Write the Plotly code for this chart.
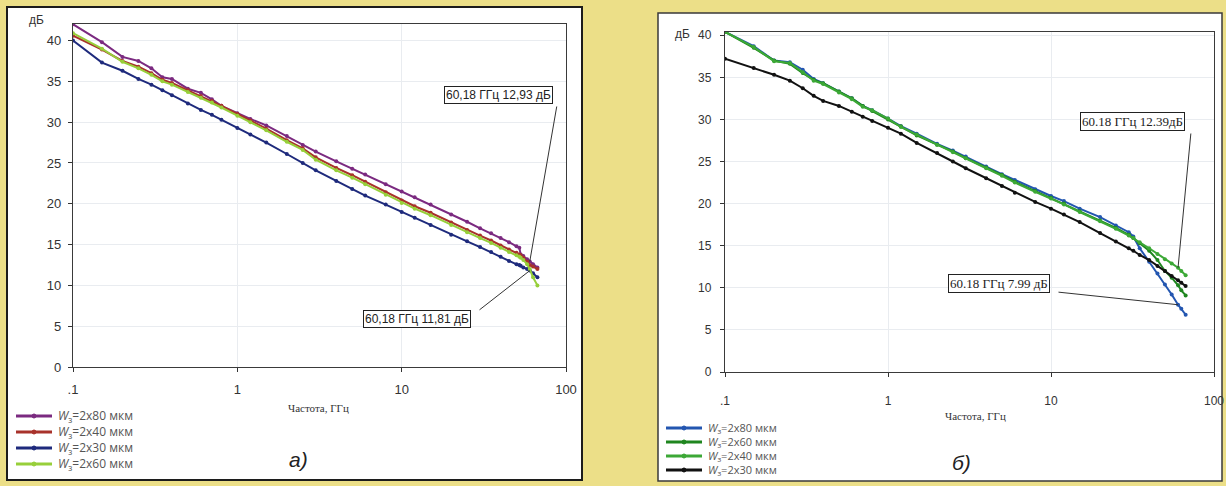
import numpy as np
import plotly.graph_objects as go

W, H = 1226, 486

# ---------------- data: chart a) ----------------
freq_a = [0.1, 0.15, 0.2, 0.25, 0.3, 0.35, 0.4, 0.5, 0.6, 0.7, 0.8, 1.0, 1.2, 1.5, 2, 2.5, 3, 4, 5, 6,
          8, 10, 12, 15, 20, 25, 30, 35, 40, 45, 50, 52, 53, 55, 58, 60.18, 63, 67]
a_w80 = [42.0, 39.8, 38.0, 37.5, 36.6, 35.5, 35.3, 34.1, 33.6, 32.8, 32.0, 31.1, 30.4, 29.6, 28.3, 27.2, 26.4,
         25.2, 24.3, 23.6, 22.4, 21.5, 20.8, 19.9, 18.7, 17.8, 17.0, 16.4, 15.8, 15.3, 14.8, 14.6, 13.8, 13.6,
         13.2, 12.93, 12.6, 12.2]
a_w40 = [40.6, 38.9, 37.5, 36.8, 36.0, 35.2, 34.8, 33.9, 33.2, 32.6, 32.0, 31.0, 30.2, 29.2, 27.8, 26.8, 25.7,
         24.4, 23.5, 22.7, 21.4, 20.4, 19.7, 18.9, 17.7, 16.8, 16.1, 15.5, 14.9, 14.4, 14.0, 13.8, 13.7, 13.4,
         12.9, 12.5, 12.3, 12.0]
a_w30 = [40.0, 37.3, 36.3, 35.3, 34.6, 33.9, 33.3, 32.3, 31.5, 30.9, 30.3, 29.3, 28.5, 27.5, 26.1, 25.0, 24.1,
         22.8, 21.8, 21.0, 19.9, 19.0, 18.3, 17.4, 16.2, 15.4, 14.7, 14.1, 13.5, 13.0, 12.6, 12.5, 12.4, 12.2,
         12.0, 11.81, 11.5, 11.0]
a_w60 = [40.9, 39.0, 37.4, 36.6, 35.8, 35.0, 34.6, 33.7, 33.0, 32.4, 31.8, 30.8, 30.0, 29.0, 27.6, 26.6, 25.4,
         24.1, 23.2, 22.4, 21.1, 20.1, 19.4, 18.6, 17.4, 16.5, 15.8, 15.2, 14.6, 14.1, 13.7, 13.5, 13.4, 13.1,
         12.6, 12.0, 11.0, 10.0]

# ---------------- data: chart б) ----------------
freq_b = [0.1, 0.15, 0.2, 0.25, 0.3, 0.35, 0.4, 0.5, 0.6, 0.7, 0.8, 1.0, 1.2, 1.5, 2, 2.5, 3, 4, 5, 6,
          8, 10, 12, 15, 20, 25, 30, 32, 35, 40, 45, 50, 55, 60.18, 63, 67]
b_w80 = [40.4, 38.7, 37.0, 36.8, 35.9, 34.8, 34.3, 33.3, 32.5, 31.6, 31.1, 30.1, 29.2, 28.3, 27.1, 26.3, 25.6,
         24.4, 23.5, 22.8, 21.7, 20.9, 20.3, 19.4, 18.4, 17.4, 16.6, 16.1, 14.7, 13.1, 11.7, 10.4, 9.2, 7.99,
         7.5, 6.8]
b_w60 = [40.4, 38.5, 37.0, 36.6, 35.5, 34.7, 34.3, 33.3, 32.5, 31.6, 31.0, 30.0, 29.2, 28.1, 27.0, 26.2, 25.4,
         24.3, 23.4, 22.6, 21.5, 20.7, 20.0, 19.1, 18.0, 17.1, 16.3, 15.9, 15.3, 14.4, 13.3, 12.0, 11.2, 10.3,
         9.7, 9.1]
b_w40 = [40.4, 38.6, 36.9, 36.7, 35.6, 34.6, 34.2, 33.2, 32.4, 31.5, 31.1, 30.1, 29.1, 28.2, 27.0, 26.1, 25.4,
         24.2, 23.3, 22.5, 21.4, 20.6, 19.9, 19.0, 17.9, 17.0, 16.2, 15.9, 15.4, 14.7, 14.0, 13.4, 12.9, 12.39,
         12.0, 11.5]
b_w30 = [37.2, 36.1, 35.3, 34.6, 33.7, 32.8, 32.2, 31.6, 30.9, 30.3, 29.8, 29.0, 28.3, 27.2, 26.0, 25.0, 24.2,
         23.0, 22.1, 21.3, 20.2, 19.4, 18.7, 17.8, 16.5, 15.5, 14.7, 14.4, 13.9, 13.3, 12.6, 12.0, 11.4, 10.9,
         10.6, 10.2]

x_tickvals = [0.1, 1, 10, 100]
x_ticktext = [".1", "1", "10", "100"]
y_tickvals = [0, 5, 10, 15, 20, 25, 30, 35, 40]

series_a = [("W80", a_w80, "#7B2A80"), ("W40", a_w40, "#A8322B"),
            ("W30", a_w30, "#1E2A7C"), ("W60", a_w60, "#97CF3A")]
labels_a = ["2x80 мкм", "2x40 мкм", "2x30 мкм", "2x60 мкм"]
series_b = [("W80", b_w80, "#2356B0"), ("W60", b_w60, "#1F861F"),
            ("W40", b_w40, "#3CA836"), ("W30", b_w30, "#111111")]
labels_b = ["2x80 мкм", "2x60 мкм", "2x40 мкм", "2x30 мкм"]

# ---------------- layout geometry (pixels) ----------------
A_X = (73, 566); A_Y = (367, 24); A_RANGE = [0, 42.03]
B_X = (725, 1214); B_Y = (372, 32); B_RANGE = [0, 40.38]


def xdom(p):
    return [p[0] / W, p[1] / W]


def ydom(p):
    return [(H - p[0]) / H, (H - p[1]) / H]


def px(f, p):
    return p[0] + (np.log10(f) + 1) / 3 * (p[1] - p[0])


def py(v, p, r):
    return p[0] - v / r[1] * (p[0] - p[1])


def pxx(x):
    return x / W


def pyy(y):
    return (H - y) / H


fig = go.Figure()

for name, vals, col in series_a:
    fig.add_trace(go.Scatter(x=freq_a, y=vals, mode="lines+markers", name=name,
                             line=dict(color=col, width=2), marker=dict(size=4, color=col),
                             xaxis="x", yaxis="y", showlegend=False))
for name, vals, col in series_b:
    fig.add_trace(go.Scatter(x=freq_b, y=vals, mode="lines+markers", name=name,
                             line=dict(color=col, width=2), marker=dict(size=4, color=col),
                             xaxis="x2", yaxis="y2", showlegend=False))

axis_common = dict(showline=True, linecolor="#3a3a3a", linewidth=1.3, mirror=True,
                   ticks="outside", ticklen=4, tickcolor="#333", zeroline=False, automargin=False,
                   showgrid=True, gridcolor="#e9ecf0", gridwidth=1)

fig.update_layout(
    template="none",
    width=W, height=H,
    margin=dict(l=0, r=0, t=0, b=0, pad=0),
    paper_bgcolor="#ECDF88",
    plot_bgcolor="white",
    showlegend=False,
    xaxis=dict(domain=xdom(A_X), type="log", range=[-1, 2], tickvals=x_tickvals, ticktext=x_ticktext,
               anchor="y", tickfont=dict(family="Liberation Sans", size=13, color="#333"),
               ticklabelstandoff=6, **axis_common),
    yaxis=dict(domain=ydom(A_Y), range=A_RANGE, tickvals=y_tickvals, anchor="x",
               tickfont=dict(family="Liberation Sans", size=13, color="#333"),
               ticklabelstandoff=4, **axis_common),
    xaxis2=dict(domain=xdom(B_X), type="log", range=[-1, 2], tickvals=x_tickvals, ticktext=x_ticktext,
                anchor="y2", tickfont=dict(family="Liberation Sans", size=12, color="#333"),
                ticklabelstandoff=13, **axis_common),
    yaxis2=dict(domain=ydom(B_Y), range=B_RANGE, tickvals=y_tickvals, anchor="x2",
                tickfont=dict(family="Liberation Sans", size=12, color="#333"),
                ticklabelstandoff=6, **axis_common),
)

shapes = []
# white cards
shapes.append(dict(type="rect", xref="paper", yref="paper", x0=pxx(7), x1=pxx(582), y0=pyy(480), y1=pyy(7),
                   fillcolor="white", line=dict(color="#1c1c1c", width=2), layer="below"))
shapes.append(dict(type="rect", xref="paper", yref="paper", x0=pxx(658), x1=pxx(1222), y0=pyy(481), y1=pyy(13),
                   fillcolor="white", line=dict(color="#3a3a3a", width=1.5), layer="below"))

annotations = []


def txt(x, y, text, font, xanchor="center", **kw):
    d = dict(xref="paper", yref="paper", x=pxx(x), y=pyy(y), text=text, showarrow=False,
             xanchor=xanchor, yanchor="middle", font=font)
    d.update(kw)
    annotations.append(d)


def legend(x0, ys, series, labels, size):
    for (name, vals, col), lab, y in zip(series, labels, ys):
        shapes.append(dict(type="line", xref="paper", yref="paper", x0=pxx(x0), x1=pxx(x0 + 36),
                           y0=pyy(y), y1=pyy(y), line=dict(color=col, width=3)))
        shapes.append(dict(type="circle", xref="paper", yref="paper", x0=pxx(x0 + 16), x1=pxx(x0 + 20),
                           y0=pyy(y + 2), y1=pyy(y - 2), fillcolor=col, line=dict(color=col, width=1)))
        txt(x0 + 40, y, "<i>W</i><sub>з</sub>=" + lab,
            dict(family="Open Sans", size=size, color="#555"), xanchor="left")


legend(16, [416, 432, 448, 464], series_a, labels_a, 12)
legend(666, [428, 442, 456, 470], series_b, labels_b, 11)

# texts
txt(36, 20, "дБ", dict(family="Liberation Sans", size=12, color="#333"))
txt(682, 34, "дБ", dict(family="Liberation Sans", size=12, color="#333"))
txt(318, 408, "Частота, ГГц", dict(family="Liberation Serif", size=11, color="#333"))
txt(975, 416, "Частота, ГГц", dict(family="Liberation Serif", size=11, color="#333"))
txt(298, 459, "<i>а)</i>", dict(family="Liberation Sans", size=21, color="#222"))
txt(961, 462, "<i>б)</i>", dict(family="Liberation Sans", size=21, color="#222"))


def callout(text, f, v, axes, pxr, pyr, rng, box_c, tail, font):
    xa, ya = axes
    hx, hy = px(f, pxr), py(v, pyr, rng)
    annotations.append(dict(xref=xa, yref=ya, x=np.log10(f), y=v, text="", showarrow=True,
                            arrowhead=0, arrowwidth=1, arrowcolor="#333", standoff=0,
                            ax=tail[0] - hx, ay=tail[1] - hy))
    txt(box_c[0], box_c[1], text, font, bgcolor="white", bordercolor="#222", borderwidth=1, borderpad=1)


fa = dict(family="Liberation Sans", size=12, color="#222")
fb = dict(family="Liberation Sans Narrow", size=13, color="#222")
callout("60,18 ГГц 12,93 дБ", 60.18, a_w80[freq_a.index(60.18)], ("x", "y"), A_X, A_Y, A_RANGE,
        (498, 95), (557, 105), fa)
callout("60,18 ГГц 11,81 дБ", 60.18, a_w30[freq_a.index(60.18)], ("x", "y"), A_X, A_Y, A_RANGE,
        (417, 319), (478, 311), fa)
callout("60.18 ГГц 12.39дБ", 60.18, b_w40[freq_b.index(60.18)], ("x2", "y2"), B_X, B_Y, B_RANGE,
        (1132, 122), (1191, 132), fb)
callout("60.18 ГГц 7.99 дБ", 60.18, b_w80[freq_b.index(60.18)], ("x2", "y2"), B_X, B_Y, B_RANGE,
        (999, 283), (1057, 292), fb)

fig.update_layout(shapes=shapes, annotations=annotations)
fig.write_html("out.html", config={"displayModeBar": False},
               post_script="document.body.style.margin='0px';document.body.style.overflow='hidden';")
